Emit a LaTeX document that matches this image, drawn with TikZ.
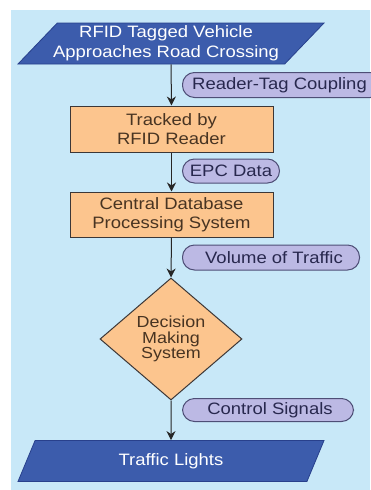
\documentclass[tikz,border=0pt]{standalone}
\usepackage{fontspec}
\setmainfont{Liberation Sans}[FakeStretch=1.12]
\usetikzlibrary{shapes.geometric,arrows.meta}
\definecolor{bgblue}{RGB}{200,232,248}
\definecolor{parafill}{RGB}{60,92,172}
\definecolor{paraline}{RGB}{40,64,140}
\definecolor{boxfill}{RGB}{252,197,142}
\definecolor{boxline}{RGB}{60,55,55}
\definecolor{boxtext}{RGB}{72,52,34}
\definecolor{pillfill}{RGB}{188,185,228}
\definecolor{pillline}{RGB}{78,78,118}
\definecolor{pilltext}{RGB}{40,40,78}
\tikzset{
  iobox/.style={trapezium, trapezium left angle=42, trapezium right angle=138,
    trapezium stretches body, fill=parafill, draw=paraline, line width=0.8pt,
    minimum width=306pt, minimum height=41pt, inner sep=0pt,
    text=white, align=center, font=\fontsize{16.5}{20}\selectfont},
  procbox/.style={rectangle, fill=boxfill, draw=boxline, line width=1pt,
    minimum width=203pt, minimum height=46pt, inner sep=0pt,
    text=boxtext, align=center, font=\fontsize{16.5}{18.5}\selectfont},
  decbox/.style={diamond, fill=boxfill, draw=boxline, line width=1pt,
    minimum width=142pt, minimum height=122pt, inner sep=0pt,
    text=boxtext, align=center, font=\fontsize{16}{15.5}\selectfont},
  pill/.style={rectangle, rounded corners=12pt, fill=pillfill, draw=pillline,
    line width=1pt, minimum height=25pt, inner sep=0pt, anchor=west,
    text=pilltext, font=\fontsize{16.5}{19}\selectfont},
  flow/.style={draw=black!85, line width=1pt, -{Stealth[length=9pt,width=9pt]}}
}
\begin{document}
\begin{tikzpicture}[x=1pt,y=-1pt]
\useasboundingbox (0,0) rectangle (370,490);
\fill[bgblue] (11,10) rectangle (370,490);

\node[iobox] (start) at (171,43.5) {\hspace*{-10pt}RFID Tagged Vehicle\\\hspace*{-10pt}Approaches Road Crossing};
\node[procbox] (track) at (171.5,129) {Tracked by\\RFID Reader};
\node[procbox, minimum height=45pt] (cdb) at (171.5,214.5) {Central Database\\Processing System};
\node[decbox] (dec) at (171,339) {Decision\\Making\\System};
\node[iobox] (lights) at (171,461) {Traffic Lights};

\draw[flow] (start.south) -- (track.north);
\draw[flow] (track.south) -- (cdb.north);
\draw[flow] (cdb.south) -- (dec.north);
\draw[flow] (dec.south) -- (lights.north);

\node[pill, minimum width=200pt] (l1) at (182,85) {\hspace*{-6pt}Reader-Tag Coupling};
\node[pill, minimum width=97pt, minimum height=24pt] (l2) at (182,171) {EPC Data};
\node[pill, minimum width=177pt] (l3) at (182,257.5) {\hspace*{6pt}Volume of Traffic};
\node[pill, minimum width=171pt, minimum height=23pt] (l4) at (182,410) {\hspace*{4pt}Control Signals};
\end{tikzpicture}
\end{document}
